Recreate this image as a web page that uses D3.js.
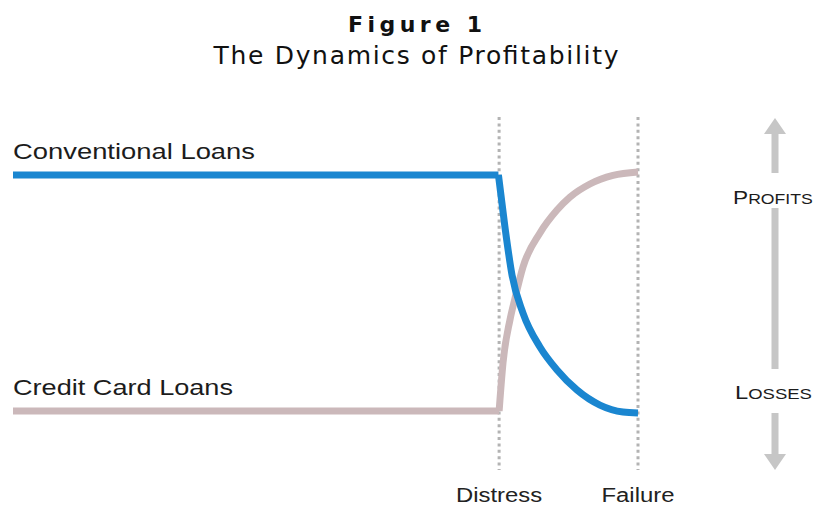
<!DOCTYPE html>
<html>
<head>
<meta charset="utf-8">
<script src="https://cdn.jsdelivr.net/npm/d3@7"></script>
<style>
  body { margin: 0; background: #fff; }
  svg { display: block; }
</style>
</head>
<body>
<div id="chart"></div>
<script>
const width = 815;
const height = 508;

// stages on the time axis
const stageNames = ["Distress", "Failure"];
const stageTimes = [35, 45];
const startTime = 0;

// profitability level: 100 = profits, 0 = losses
const convFlat = [[0, 99.2], [34.95, 99.2]];
const convCurve = [
  [34.95, 99.2], [35.42, 77.4], [35.93, 57.3], [36.72, 41.4], [37.94, 27.2],
  [39.17, 17.6], [40.61, 9.2], [42.26, 2.9], [43.92, 0], [45, -0.4]
];
const cardFlat = [[0, 0.4], [35, 0.4]];
const cardCurve = [
  [35, 0.4], [35.06, 5], [35.28, 20.5], [35.78, 38.5], [36.14, 47.5],
  [36.72, 60.7], [37.94, 74.9], [39.17, 84.5], [40.1, 89.9], [41.54, 95.4],
  [43.2, 99], [45, 100.4]
];

const seriesNames = ["Conventional Loans", "Credit Card Loans"];

const svg = d3.select("#chart")
  .append("svg")
  .attr("width", width)
  .attr("height", height);

const x = d3.scaleLinear()
  .domain([startTime, 45])
  .range([13, 638]);

const y = d3.scaleLinear()
  .domain([0, 100])
  .range([412, 173]);

// titles
svg.append("text")
  .attr("x", 415)
  .attr("y", 32)
  .attr("text-anchor", "middle")
  .attr("textLength", 134)
  .attr("lengthAdjust", "spacing")
  .style("font-family", "DejaVu Sans")
  .style("font-size", "22px")
  .style("font-weight", "bold")
  .style("fill", "#111")
  .text("Figure 1");

svg.append("text")
  .attr("x", 416)
  .attr("y", 64)
  .attr("text-anchor", "middle")
  .attr("textLength", 405)
  .attr("lengthAdjust", "spacing")
  .style("font-family", "DejaVu Sans")
  .style("font-size", "25px")
  .style("fill", "#111")
  .text("The Dynamics of Profitability");

// dotted stage lines
svg.selectAll(".stage-line")
  .data(stageTimes)
  .enter()
  .append("line")
  .attr("class", "stage-line")
  .attr("x1", d => x(d))
  .attr("x2", d => x(d))
  .attr("y1", 117)
  .attr("y2", 470)
  .attr("stroke", "#b3b3b3")
  .attr("stroke-width", 3)
  .attr("stroke-dasharray", "3,3.4");

const stageWidths = [86, 73];
svg.selectAll(".stage-label")
  .data(stageTimes)
  .enter()
  .append("text")
  .attr("class", "stage-label")
  .attr("x", d => x(d))
  .attr("y", 502)
  .attr("text-anchor", "middle")
  .attr("textLength", (d, i) => stageWidths[i])
  .attr("lengthAdjust", "spacingAndGlyphs")
  .style("font-family", "Liberation Sans")
  .style("font-size", "19.5px")
  .style("fill", "#222")
  .text((d, i) => stageNames[i]);

const flatLine = d3.line()
  .x(d => x(d[0]))
  .y(d => y(d[1]));

const curveLine = d3.line()
  .x(d => x(d[0]))
  .y(d => y(d[1]))
  .curve(d3.curveMonotoneX);

// credit card loans (drawn first, under the blue)
svg.append("path")
  .attr("d", flatLine(cardFlat) + curveLine(cardCurve))
  .attr("fill", "none")
  .attr("stroke", "#cbb8ba")
  .attr("stroke-width", 7)
  .attr("stroke-linejoin", "round");

svg.append("path")
  .attr("d", flatLine(convFlat) + curveLine(convCurve))
  .attr("fill", "none")
  .attr("stroke", "#1a86d0")
  .attr("stroke-width", 7)
  .attr("stroke-linejoin", "miter");

// series labels
svg.append("text")
  .attr("x", 13)
  .attr("y", 159)
  .attr("textLength", 242)
  .attr("lengthAdjust", "spacingAndGlyphs")
  .style("font-family", "Liberation Sans")
  .style("font-size", "21.5px")
  .style("fill", "#1c1c1c")
  .text(seriesNames[0]);

svg.append("text")
  .attr("x", 13)
  .attr("y", 395)
  .attr("textLength", 220)
  .attr("lengthAdjust", "spacingAndGlyphs")
  .style("font-family", "Liberation Sans")
  .style("font-size", "21.5px")
  .style("fill", "#1c1c1c")
  .text(seriesNames[1]);

// profits / losses arrows
const arrowX = 775;
const arrowColor = "#c6c6c6";

svg.append("rect")
  .attr("x", arrowX - 3.5).attr("y", 132)
  .attr("width", 7).attr("height", 41)
  .attr("fill", arrowColor);
svg.append("path")
  .attr("d", `M${arrowX},118L${arrowX + 11},134L${arrowX - 11},134Z`)
  .attr("fill", arrowColor);

svg.append("rect")
  .attr("x", arrowX - 3.5).attr("y", 208)
  .attr("width", 7).attr("height", 161)
  .attr("fill", arrowColor);

svg.append("rect")
  .attr("x", arrowX - 3.5).attr("y", 413)
  .attr("width", 7).attr("height", 43)
  .attr("fill", arrowColor);
svg.append("path")
  .attr("d", `M${arrowX},470L${arrowX + 11},454L${arrowX - 11},454Z`)
  .attr("fill", arrowColor);

const smallCaps = (xPos, yPos, first, rest, sx) => {
  const t = svg.append("text")
    .attr("transform", `translate(${xPos},${yPos}) scale(${sx},1)`)
    .style("font-family", "Liberation Sans")
    .style("fill", "#1c1c1c");
  t.append("tspan").style("font-size", "18px").text(first);
  t.append("tspan").style("font-size", "14px").text(rest);
};
smallCaps(733, 204, "P", "ROFITS", 1.26);
smallCaps(735, 399, "L", "OSSES", 1.32);
</script>
</body>
</html>
